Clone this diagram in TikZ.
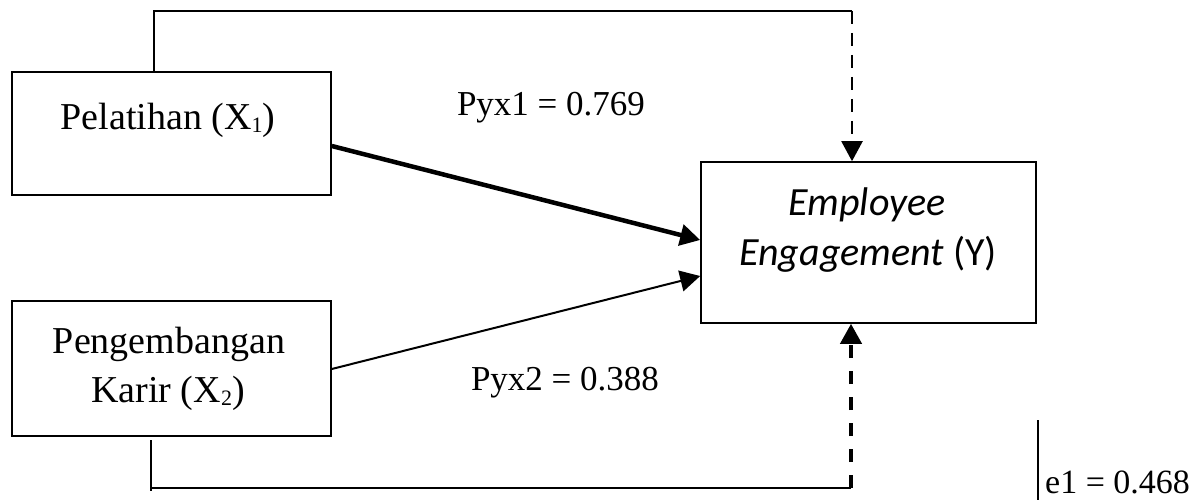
\documentclass[tikz,border=0pt]{standalone}
\usepackage{fontspec}
\setmainfont{Liberation Serif}
\newfontfamily\calfont{Carlito}
\usetikzlibrary{arrows.meta}
\newcommand\subn[1]{\raisebox{-3pt}{\fontsize{22}{22}\selectfont #1}}
\begin{document}
\begin{tikzpicture}[x=1pt,y=-1pt,
  box/.style={draw,line width=1.6pt,inner sep=0pt},
  serif/.style={font=\fontsize{38}{49}\selectfont,inner sep=0pt},
  lab/.style={font=\fontsize{35}{42}\selectfont,inner sep=0pt},
  cal/.style={font=\calfont\fontsize{40}{48}\selectfont,inner sep=0pt},
  tip/.style={-{Triangle[length=20pt,width=21pt]}},
  conn/.style={line width=2.2pt},
]
\useasboundingbox (0,0) rectangle (1196,500);
% boxes
\node[box,minimum width=319pt,minimum height=123pt] (x1) at (171.5,133.5) {};
\node[box,minimum width=319pt,minimum height=135pt] (x2) at (171.5,368.5) {};
\node[box,minimum width=335pt,minimum height=161pt] (y) at (868.5,242.5) {};
% texts
\node[serif,anchor=base] (x1t) at (168,129) {Pelatihan (X\subn{1})};
\node[serif,anchor=base] (x2t1) at (169,353) {Pengembangan};
\node[serif,anchor=base] (x2t2) at (168,402) {Karir (X\subn{2})};
\node[cal,anchor=base] (yt1) at (867,215) {\itshape Employee};
\node[cal,anchor=base] (yt2) at (868,265) {\textit{Engagement} (Y)};
\node[lab,anchor=base] (p1) at (551,116) {Pyx1 = 0.769};
\node[lab,anchor=base] (p2) at (565,390) {Pyx2 = 0.388};
\node[font=\fontsize{34}{40}\selectfont,inner sep=0pt,anchor=base west] (e1) at (1045,493) {e1 = 0.468};
% path arrows
\draw[line width=4.5pt,tip] ([yshift=-12.5pt]x1.east) -- ([yshift=2.5pt]y.west);
\draw[line width=2pt,tip] ([yshift=-0.5pt]x2.east) -- ([yshift=-33.5pt]y.west);
% top connector
\coordinate (tl) at (154,11);
\coordinate (tr) at (852,11);
\draw[conn] (tl |- x1.north) -- (tl) -- (tr);
\draw[conn,dash pattern=on 13pt off 9pt,tip] (tr) -- (tr |- y.north);
% bottom connector
\coordinate (bs) at (151,440);
\coordinate (bend) at (151,491);
\coordinate (bl) at (151,488);
\coordinate (br) at (851,488);
\draw[conn] (bs) -- (bend);
\draw[conn] (bl) -- (br);
\draw[line width=4pt,dash pattern=on 13pt off 13pt,tip] (br) -- (br |- y.south);
% e1
\coordinate (e1a) at (1038,420);
\coordinate (e1b) at (1038,500);
\draw[line width=2pt] (e1a) -- (e1b);
\end{tikzpicture}
\end{document}
